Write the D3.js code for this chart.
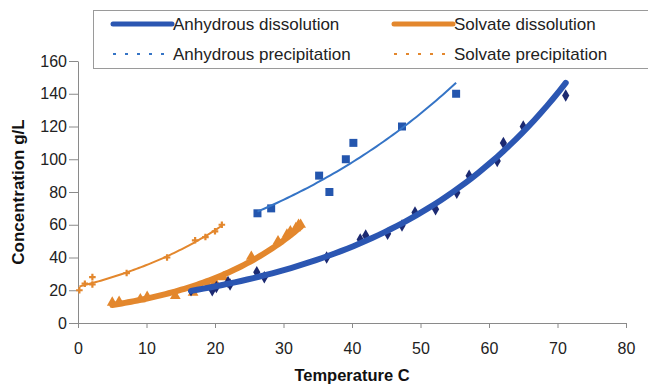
<!DOCTYPE html>
<html>
<head>
<meta charset="utf-8">
<script src="https://cdn.jsdelivr.net/npm/d3@7"></script>
<style>
  body { margin: 0; background: #fff; }
  svg { display: block; font-family: "Liberation Sans", Arial, sans-serif; }
</style>
</head>
<body>
<div id="chart"></div>
<script>
// measured points, temperature (C) and concentration (g/L)
var anhDissT = [16.5, 19.6, 20.2, 21.9, 22.2, 26.1, 27.2, 36.3, 41.2, 42, 45.2, 47.3, 49.2, 52.2, 55.3, 57.1, 61.2, 62.1, 65, 71.2];
var anhDissC = [20, 20, 22, 25, 23.5, 31, 28, 40, 51, 53.5, 54.5, 59.5, 67.5, 69.5, 79.5, 90, 99, 110, 120, 139];

var anhPrecT = [26.2, 28.2, 35.2, 36.7, 39.1, 40.2, 47.3, 55.2];
var anhPrecC = [67, 70, 90, 80, 100, 110, 120, 140];

var solDissT = [5, 6, 9.1, 10.1, 14.2, 16.8, 19, 20, 21.2, 25.3, 29.2, 30.5, 31, 31.8, 32.2, 32.5];
var solDissC = [12.5, 13, 14.5, 16, 16.5, 18.5, 23, 25, 28, 40.5, 50, 54, 56, 58, 60, 60];

var solPrecT = [0.2, 1, 2.1, 2.1, 7.1, 13, 17.1, 18.6, 20, 21];
var solPrecC = [20, 24, 28, 23.5, 30.5, 40, 50.5, 52.5, 56, 60];

var xTicks = [0, 10, 20, 30, 40, 50, 60, 70, 80];
var yTicks = [0, 20, 40, 60, 80, 100, 120, 140, 160];

var blue = "#2b56b2", blueLight = "#3574c6", navy = "#1c2a72", orange = "#e3872d";

var W = 648, H = 385;

var svg = d3.select("#chart").append("svg")
  .attr("width", W)
  .attr("height", H);

var x = d3.scaleLinear().domain([0, 80]).range([78, 626]);
var y = d3.scaleLinear().domain([0, 160]).range([323, 61]);

// axes
var gx = svg.append("g")
  .attr("transform", "translate(0," + y(0) + ")")
  .call(d3.axisBottom(x).tickValues(xTicks).tickSize(5).tickPadding(15).tickSizeOuter(0));
var gy = svg.append("g")
  .attr("transform", "translate(" + x(0) + ",0)")
  .call(d3.axisLeft(y).tickValues(yTicks).tickSize(9).tickPadding(2).tickSizeOuter(0));

[gx, gy].forEach(function (g) {
  g.selectAll("path, line").attr("stroke", "#8a8a8a");
  g.selectAll("text").attr("fill", "#222").style("font-size", "16px").attr("font-family", null);
});

svg.append("text")
  .attr("x", 352)
  .attr("y", 381)
  .attr("text-anchor", "middle")
  .style("font-size", "16.5px")
  .style("font-weight", "bold")
  .attr("fill", "#111")
  .text("Temperature C");

svg.append("text")
  .attr("transform", "translate(24," + y(80) + ") rotate(-90)")
  .attr("text-anchor", "middle")
  .style("font-size", "17px")
  .style("font-weight", "bold")
  .attr("fill", "#111")
  .text("Concentration g/L");

// exponential trendline, least squares on ln(C)
function expFit(xs, ys) {
  var mx = d3.mean(xs), my = d3.mean(ys, function (v) { return Math.log(v); });
  var sxy = 0, sxx = 0;
  xs.forEach(function (v, i) {
    sxy += (v - mx) * (Math.log(ys[i]) - my);
    sxx += (v - mx) * (v - mx);
  });
  var b = sxy / sxx, a = Math.exp(my - b * mx);
  var ext = d3.extent(xs);
  return d3.range(0, 61).map(function (i) {
    var t = ext[0] + (ext[1] - ext[0]) * i / 60;
    return [t, a * Math.exp(b * t)];
  });
}

var line = d3.line()
  .x(function (d) { return x(d[0]); })
  .y(function (d) { return y(d[1]); });

function points(xs, ys, type, size, color) {
  svg.append("g").selectAll("path")
    .data(xs.map(function (v, i) { return [v, ys[i]]; }))
    .enter().append("path")
      .attr("transform", function (d) { return "translate(" + x(d[0]) + "," + y(d[1]) + ")"; })
      .attr("d", d3.symbol().type(type).size(size))
      .attr("fill", color);
}

points(solPrecT, solPrecC, d3.symbolCross, 24, orange);
points(solDissT, solDissC, d3.symbolTriangle, 50, orange);
points(anhPrecT, anhPrecC, d3.symbolSquare, 64, "#2456ae");
points(anhDissT, anhDissC, d3.symbolDiamond, 45, navy);

svg.append("path").datum(expFit(solPrecT, solPrecC))
  .attr("d", line).attr("fill", "none").attr("stroke", orange).attr("stroke-width", 2);
svg.append("path").datum(expFit(anhPrecT, anhPrecC))
  .attr("d", line).attr("fill", "none").attr("stroke", blueLight).attr("stroke-width", 2);
svg.append("path").datum(expFit(solDissT, solDissC))
  .attr("d", line).attr("fill", "none").attr("stroke", orange).attr("stroke-width", 6).attr("stroke-linecap", "round");
svg.append("path").datum(expFit(anhDissT, anhDissC))
  .attr("d", line).attr("fill", "none").attr("stroke", blue).attr("stroke-width", 6).attr("stroke-linecap", "round");

// legend
var legend = svg.append("g");
legend.append("rect")
  .attr("x", 93.5).attr("y", 10.5)
  .attr("width", 600).attr("height", 58)
  .attr("fill", "#fff")
  .attr("stroke", "#9a9a9a");

var legendItems = [
  { label: "Anhydrous dissolution", color: blue, w: 5, dash: null, lx: 113, ly: 24 },
  { label: "Solvate dissolution", color: orange, w: 5, dash: null, lx: 394, ly: 24 },
  { label: "Anhydrous precipitation", color: blueLight, w: 2, dash: "3,9", lx: 113, ly: 54 },
  { label: "Solvate precipitation", color: orange, w: 2, dash: "3,9", lx: 394, ly: 54 }
];

legendItems.forEach(function (d) {
  legend.append("line")
    .attr("x1", d.lx).attr("x2", d.lx + 59)
    .attr("y1", d.ly).attr("y2", d.ly)
    .attr("stroke", d.color)
    .attr("stroke-width", d.w)
    .attr("stroke-linecap", d.dash ? "butt" : "round")
    .attr("stroke-dasharray", d.dash);
  legend.append("text")
    .attr("x", d.lx + 60)
    .attr("y", d.ly)
    .attr("dy", "0.35em")
    .style("font-size", "17px")
    .attr("fill", "#222")
    .text(d.label);
});
</script>
</body>
</html>
